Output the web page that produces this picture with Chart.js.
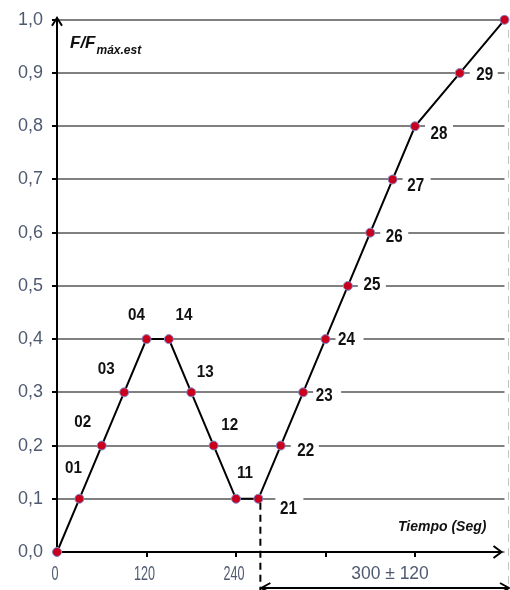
<!DOCTYPE html>
<html>
<head>
<meta charset="utf-8">
<script src="https://cdn.jsdelivr.net/npm/chart.js@4.4.1/dist/chart.umd.min.js"></script>
<style>
  html, body { margin: 0; padding: 0; background: #fff; }
  #wrap { width: 510px; height: 590px; }
</style>
</head>
<body>
<div id="wrap"><canvas id="chart" width="510" height="590"></canvas></div>
<script>
// datos del ensayo (tiempo en seg, F/Fmax)
const tiempos = [0, 30, 60, 90, 120, 150, 180, 210, 240, 270, 300, 330, 360, 390, 420, 450, 480, 540, 600];
const fuerzas = [0, 0.1, 0.2, 0.3, 0.4, 0.4, 0.3, 0.2, 0.1, 0.1, 0.2, 0.3, 0.4, 0.5, 0.6, 0.7, 0.8, 0.9, 1.0];
const etiquetas = ["", "01", "02", "03", "04", "14", "13", "12", "11", "21", "22", "23", "24", "25", "26", "27", "28", "29", ""];
const xTicks = [0, 120, 240, 360, 480];
const xTickLabels = ["0", "120", "240", "", ""];

const SANS = "'Liberation Sans', Arial, sans-serif";
const tickColor = "#4f5a70";

// desplazamiento de cada etiqueta respecto a su punto (px)
const offsets = [
  null, [-6, -30], [-19, -23], [-18, -23], [-10, -24],
  [15, -24], [14, -20], [16, -20], [9, -25],
  [30, 10], [25, 5], [21, 3], [21, 1], [24, -1], [24, 4], [23, 6], [24, 8], [25, 2], null
];

const puntos = tiempos.map((t, i) => ({ x: t, y: fuerzas[i] }));

// texto estrechado (no hay Arial Narrow instalada)
function narrowText(ctx, txt, x, y, sx) {
  ctx.save();
  ctx.translate(x, y);
  ctx.scale(sx, 1);
  ctx.fillText(txt, 0, 0);
  ctx.restore();
}

function arrowHead(ctx, x, y, dir, len, half) {
  ctx.beginPath();
  if (dir === "up") {
    ctx.moveTo(x - half, y + len); ctx.lineTo(x, y); ctx.lineTo(x + half, y + len);
  } else if (dir === "right") {
    ctx.moveTo(x - len, y - half); ctx.lineTo(x, y); ctx.lineTo(x - len, y + half);
  } else {
    ctx.moveTo(x + len, y - half); ctx.lineTo(x, y); ctx.lineTo(x + len, y + half);
  }
  ctx.stroke();
}

const adornos = {
  id: "adornos",
  beforeDatasetsDraw(chart) {
    const { ctx, chartArea: a, scales: { x, y } } = chart;
    ctx.save();
    // huecos blancos en la rejilla detras de las etiquetas de la derecha
    ctx.fillStyle = "#fff";
    for (let i = 9; i < etiquetas.length; i++) {
      if (!etiquetas[i]) continue;
      const px = x.getPixelForValue(tiempos[i]);
      const py = y.getPixelForValue(fuerzas[i]);
      const dx = i === 9 ? 17 : 10;
      ctx.fillRect(px + dx, py - 3, 28, 6);
    }
    // ejes
    ctx.strokeStyle = "#000";
    ctx.lineWidth = 2;
    ctx.beginPath();
    ctx.moveTo(a.left, a.bottom + 1);
    ctx.lineTo(a.left, a.top - 2);
    ctx.moveTo(a.left - 1, a.bottom);
    ctx.lineTo(a.right - 3, a.bottom);
    ctx.stroke();
    arrowHead(ctx, a.left, a.top - 2, "up", 8, 5);
    arrowHead(ctx, a.right - 3, a.bottom, "right", 8, 6);

    // etiquetas del eje X
    ctx.fillStyle = tickColor;
    ctx.textAlign = "center";
    ctx.textBaseline = "middle";
    ctx.font = "21px " + SANS;
    xTicks.forEach((v, i) => {
      if (xTickLabels[i]) narrowText(ctx, xTickLabels[i], x.getPixelForValue(v) - 2, a.bottom + 22, 0.6);
    });
    ctx.restore();
  },
  afterDatasetsDraw(chart) {
    const { ctx, scales: { x, y } } = chart;
    ctx.save();
    ctx.textAlign = "center";
    ctx.textBaseline = "middle";
    ctx.fillStyle = "#111";
    etiquetas.forEach((lab, i) => {
      if (!lab) return;
      const px = x.getPixelForValue(tiempos[i]) + offsets[i][0];
      const py = y.getPixelForValue(fuerzas[i]) + offsets[i][1];
      if (i >= 9) {
        ctx.font = "bold 19px " + SANS;
        narrowText(ctx, lab, px, py, 0.8);
      } else {
        ctx.font = "bold 16px " + SANS;
        narrowText(ctx, lab, px, py, 0.95);
      }
    });

    // titulo del eje Y
    ctx.textAlign = "left";
    ctx.textBaseline = "alphabetic";
    ctx.font = "bold italic 17px " + SANS;
    ctx.fillText("F/F", 70, 48);
    const w = ctx.measureText("F/F").width;
    ctx.font = "bold italic 12px " + SANS;
    ctx.fillText("máx.est", 70 + w + 1, 54);

    // titulo del eje X
    ctx.font = "bold italic 14px " + SANS;
    ctx.fillText("Tiempo (Seg)", 398, 531);

    // linea discontinua en t = 270
    const xd = x.getPixelForValue(270) + 2;
    ctx.strokeStyle = "#000";
    ctx.lineWidth = 2;
    ctx.setLineDash([7, 5]);
    ctx.beginPath();
    ctx.moveTo(xd, y.getPixelForValue(0.1) + 4);
    ctx.lineTo(xd, 592);
    ctx.stroke();
    // linea gris a la derecha
    ctx.strokeStyle = "#c4c4c4";
    ctx.lineWidth = 1;
    ctx.setLineDash([8, 6]);
    ctx.beginPath();
    ctx.moveTo(508.5, 30);
    ctx.lineTo(508.5, 590);
    ctx.stroke();
    ctx.setLineDash([]);

    // flecha doble 300 +- 120
    ctx.strokeStyle = "#000";
    ctx.lineWidth = 2;
    ctx.beginPath();
    ctx.moveTo(xd + 1, 588);
    ctx.lineTo(509, 588);
    ctx.stroke();
    arrowHead(ctx, xd + 1, 588, "left", 9, 5);
    arrowHead(ctx, 509, 588, "right", 9, 5);
    ctx.fillStyle = tickColor;
    ctx.textAlign = "center";
    ctx.textBaseline = "middle";
    ctx.font = "19px " + SANS;
    narrowText(ctx, "300 \u00b1 120", 390, 574, 0.92);
    ctx.restore();
  }
};

const ctx = document.getElementById("chart").getContext("2d");
new Chart(ctx, {
  type: "line",
  data: {
    datasets: [{
      data: puntos,
      borderColor: "#000",
      borderWidth: 2,
      pointRadius: 4.5,
      pointBackgroundColor: "#c8001e",
      pointBorderColor: "#7f8fcf",
      pointBorderWidth: 1,
      tension: 0,
      clip: false
    }]
  },
  options: {
    responsive: false,
    devicePixelRatio: 1,
    animation: false,
    layout: { padding: { top: 18, right: 5, left: 0, bottom: 0 } },
    plugins: { legend: { display: false }, tooltip: { enabled: false } },
    scales: {
      x: {
        type: "linear",
        min: 0,
        max: 600,
        afterFit: (s) => { s.height = 38; },
        afterBuildTicks: (s) => { s.ticks = xTicks.map((v) => ({ value: v })); },
        border: { display: false },
        grid: { drawOnChartArea: false, drawTicks: true, tickLength: 5, tickColor: "#000", lineWidth: 2 },
        ticks: { display: false }
      },
      y: {
        min: 0,
        max: 1,
        afterFit: (s) => { s.width = 57; },
        border: { display: false },
        grid: { color: "#808080", lineWidth: 2, tickLength: 5, tickColor: "#000" },
        ticks: {
          stepSize: 0.1,
          padding: 9,
          color: tickColor,
          font: { family: SANS, size: 18 },
          callback: (v) => v.toFixed(1).replace(".", ",")
        }
      }
    }
  },
  plugins: [adornos]
});
</script>
</body>
</html>
